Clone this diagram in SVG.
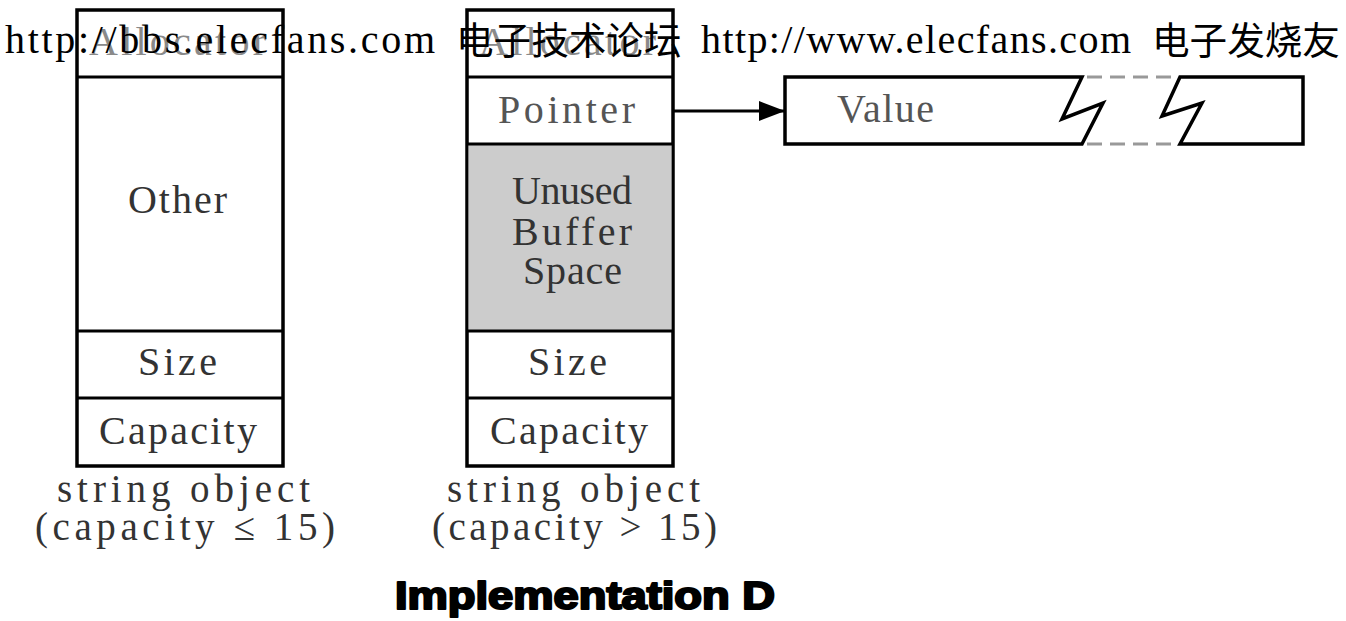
<svg xmlns="http://www.w3.org/2000/svg" width="1346" height="621" viewBox="0 0 1346 621">
<style>
.box{fill:#fff;stroke:#000;stroke-width:3.5}
.div{stroke:#000;stroke-width:3.2;fill:none}
.lbl{font-family:"Liberation Serif","Times New Roman",serif;font-size:40px;fill:#333}
.lt{fill:#8a8a8a}
.mid{fill:#555}
.cap{font-family:"Liberation Serif","Times New Roman",serif;font-size:39px;fill:#333}
.wm{font-family:"Liberation Serif","Times New Roman",serif;font-size:40px;fill:#000}
.wmc{font-family:"Noto Sans CJK SC","Noto Sans CJK TC",sans-serif;font-size:37.6px;fill:#000}
.title{font-family:"Liberation Sans",Arial,sans-serif;font-size:38px;font-weight:bold;fill:#000;stroke:#000;stroke-width:2.2;stroke-linejoin:round}
.dash{stroke:#999;stroke-width:3;stroke-dasharray:15 8;fill:none}
</style>
<defs>
<marker id="ah" markerWidth="26" markerHeight="20" refX="25" refY="10" orient="auto" markerUnits="userSpaceOnUse">
<polygon points="0,0 26,10 0,20" fill="#000"/>
</marker>
</defs>
<rect width="1346" height="621" fill="#fff"/>

<g id="string-small">
<rect class="box" x="77" y="10" width="206" height="456"/>
<line class="div" x1="77" y1="77" x2="283" y2="77"/>
<line class="div" x1="77" y1="331" x2="283" y2="331"/>
<line class="div" x1="77" y1="398" x2="283" y2="398"/>
<text class="lbl lt" x="89" y="55" textLength="177" lengthAdjust="spacing">Allocator</text>
<text class="lbl" x="128" y="213" textLength="99" lengthAdjust="spacing">Other</text>
<text class="lbl" x="138" y="375" textLength="79" lengthAdjust="spacing">Size</text>
<text class="lbl" x="99" y="444" textLength="158" lengthAdjust="spacing">Capacity</text>
<text class="cap" x="57" y="502" textLength="253" lengthAdjust="spacing">string object</text>
<text class="cap" x="35" y="540" textLength="300" lengthAdjust="spacing">(capacity ≤ 15)</text>
</g>

<g id="string-large">
<rect class="box" x="467" y="10" width="206" height="456"/>
<rect x="468.5" y="144" width="203" height="187" fill="#cccccc"/>
<line class="div" x1="467" y1="77" x2="673" y2="77"/>
<line class="div" x1="467" y1="144" x2="673" y2="144"/>
<line class="div" x1="467" y1="331" x2="673" y2="331"/>
<line class="div" x1="467" y1="398" x2="673" y2="398"/>
<text class="lbl lt" x="479" y="55" textLength="177" lengthAdjust="spacing">Allocator</text>
<text class="lbl mid" x="498" y="123" textLength="137" lengthAdjust="spacing">Pointer</text>
<text class="lbl" x="512" y="204" textLength="120" lengthAdjust="spacing">Unused</text>
<text class="lbl" x="512" y="245" textLength="120" lengthAdjust="spacing">Buffer</text>
<text class="lbl" x="523" y="284" textLength="99" lengthAdjust="spacing">Space</text>
<text class="lbl" x="528" y="375" textLength="79" lengthAdjust="spacing">Size</text>
<text class="lbl" x="490" y="444" textLength="158" lengthAdjust="spacing">Capacity</text>
<text class="cap" x="447" y="502" textLength="253" lengthAdjust="spacing">string object</text>
<text class="cap" x="432" y="540" textLength="285" lengthAdjust="spacing">(capacity &gt; 15)</text>
</g>

<g id="value">
<path class="box" d="M1082,77 H785 V144 H1082 L1103,103 L1062,119 Z"/>
<path class="box" d="M1180,77 H1303 V144 H1180 L1202,103 L1162,116 Z"/>
<line class="dash" x1="1087" y1="77" x2="1176" y2="77"/>
<line class="dash" x1="1087" y1="144" x2="1176" y2="144"/>
<text class="lbl mid" x="837" y="122" textLength="97" lengthAdjust="spacing">Value</text>
</g>

<g id="connectors">
<line x1="673" y1="111" x2="784" y2="111" stroke="#000" stroke-width="3" marker-end="url(#ah)"/>
</g>

<g id="title">
<text class="title" x="395" y="609" textLength="380" lengthAdjust="spacingAndGlyphs">Implementation D</text>
</g>

<g id="watermark">
<text class="wm" x="5" y="53" textLength="430" lengthAdjust="spacing">http://bbs.elecfans.com</text>
<text class="wmc" x="456" y="54">电子技术论坛</text>
<text class="wm" x="701" y="53" textLength="430" lengthAdjust="spacing">http://www.elecfans.com</text>
<text class="wmc" x="1152" y="54">电子发烧友</text>
</g>
</svg>
